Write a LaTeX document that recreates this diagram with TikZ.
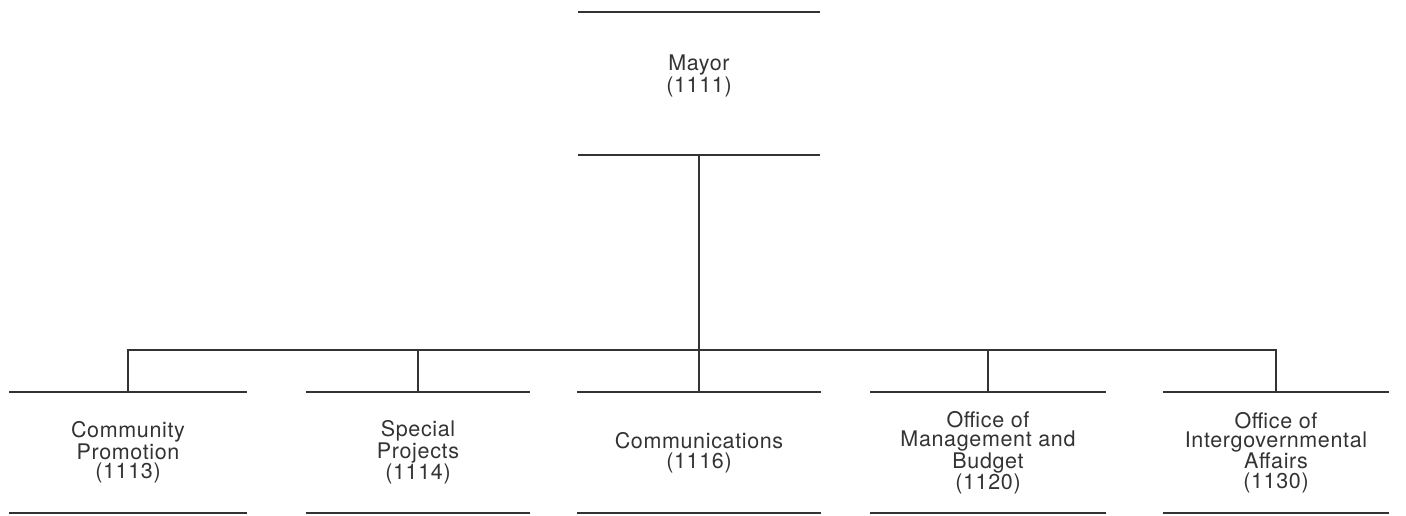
\documentclass[tikz,border=0pt]{standalone}
\usepackage{fontspec}
\setmainfont[LetterSpace=3]{TeX Gyre Heros}
\begin{document}
\begin{tikzpicture}[x=1pt,y=-1pt,
  rule/.style={draw=black!80,line width=1.5pt},
  link/.style={draw=black!80,line width=1.5pt},
  lbl/.style={inner sep=0pt,align=center,font=\fontsize{21.5}{19.5}\selectfont,text=black!80},
  orgbox/.style={lbl,minimum height=121pt},
]
\useasboundingbox (0,0) rectangle (1406,516);
\node[inner sep=0pt,minimum height=143pt,minimum width=242pt] (mayor) at (699,83.5) {};
\node[lbl] (mayortext) at (699,76) {Mayor\\(1111)};
\node[orgbox,minimum width=237pt] (b1) at (128,452.5) {Community\\Promotion\\(1113)};
\node[orgbox,minimum width=224pt] (b2) at (418,452.5) {Special\\Projects\\(1114)};
\node[orgbox,minimum width=244pt] (b3) at (699,452.5) {Communications\\(1116)};
\node[orgbox,minimum width=236pt] (b4) at (988,452.5) {Office of\\Management and\\Budget\\(1120)};
\node[orgbox,minimum width=226pt] (b5) at (1276,452.5) {Office of\\Intergovernmental\\Affairs\\(1130)};
\foreach \n in {mayor,b1,b2,b3,b4,b5}{
  \draw[rule] (\n.north west) -- (\n.north east);
  \draw[rule] (\n.south west) -- (\n.south east);
}
\coordinate (j) at (699,350);
\draw[link] (mayor.south) -- (j);
\draw[link] (b1.north) |- (j);
\draw[link] (b5.north) |- (j);
\draw[link] (j) -- (b3.north);
\draw[link] (b2.north) -- (b2.north |- j);
\draw[link] (b4.north) -- (b4.north |- j);
\end{tikzpicture}
\end{document}
